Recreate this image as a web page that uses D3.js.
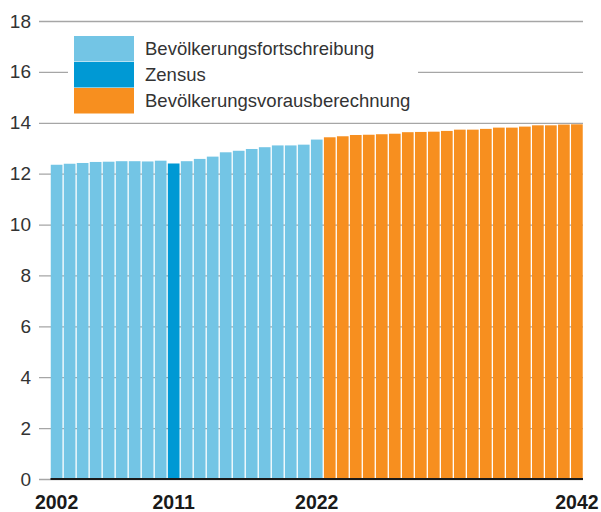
<!DOCTYPE html>
<html>
<head>
<meta charset="utf-8">
<script src="https://cdn.jsdelivr.net/npm/d3@7"></script>
<style>
  body { margin: 0; background: #fff; }
  svg { display: block; font-family: "Liberation Sans", Arial, sans-serif; }
</style>
</head>
<body>
<div id="chart"></div>
<script>
// years shown as bars
const years = [2002, 2003, 2004, 2005, 2006, 2007, 2008, 2009, 2010, 2011,
               2012, 2013, 2014, 2015, 2016, 2017, 2018, 2019, 2020, 2021,
               2022, 2023, 2024, 2025, 2026, 2027, 2028, 2029, 2030, 2031,
               2032, 2033, 2034, 2035, 2036, 2037, 2038, 2039, 2040, 2041, 2042];

// population in millions
const population = [12.35, 12.39, 12.42, 12.46, 12.47, 12.49, 12.49, 12.48, 12.51, 12.40,
                    12.49, 12.58, 12.67, 12.84, 12.90, 12.97, 13.04, 13.11, 13.11, 13.14,
                    13.34, 13.43, 13.47, 13.52, 13.53, 13.55, 13.57, 13.63, 13.64, 13.65,
                    13.68, 13.73, 13.73, 13.76, 13.81, 13.81, 13.85, 13.90, 13.90, 13.93, 13.94];

const seriesNames = ["Bevölkerungsfortschreibung", "Zensus", "Bevölkerungsvorausberechnung"];
const seriesColors = ["#73c5e5", "#0099d4", "#f78f1f"];
const censusYear = 2011,
      lastObservedYear = 2022;

const yTicks = [0, 2, 4, 6, 8, 10, 12, 14, 16, 18];
const xLabels = [2002, 2011, 2022, 2042];

// which series a year belongs to
function seriesOf(year) {
  if (year === censusYear) return 1;
  return year <= lastObservedYear ? 0 : 2;
}

const width = 601, height = 512;
const plot = { left: 50.5, right: 583, top: 21, bottom: 479 };

const svg = d3.select("#chart").append("svg")
    .attr("width", width)
    .attr("height", height);

const x = d3.scaleBand().domain(years).range([plot.left, plot.right]).paddingInner(0.1).paddingOuter(0.02);
const y = d3.scaleLinear().domain([0, 18]).range([plot.bottom, plot.top]);

// gridlines + tick labels
const grid = svg.append("g")
  .attr("transform", "translate(39,0)")
  .call(d3.axisLeft(y).tickValues(yTicks).tickSize(-(plot.right - 39)).tickPadding(8));
grid.select(".domain").remove();
grid.selectAll(".tick line").attr("stroke", "#a6a6a6").attr("stroke-width", 1.3);
grid.selectAll(".tick text")
  .attr("fill", "#333")
  .attr("font-size", 19)
  .attr("font-family", "'Liberation Sans', Arial, sans-serif");

// bars
svg.append("g").selectAll("rect")
  .data(years.map((d, i) => ({ year: d, value: population[i] })))
  .join("rect")
    .attr("x", d => x(d.year))
    .attr("y", d => y(d.value))
    .attr("width", x.bandwidth())
    .attr("height", d => y(0) - y(d.value))
    .attr("fill", d => seriesColors[seriesOf(d.year)]);

// baseline
svg.append("line")
  .attr("x1", plot.left).attr("x2", plot.right)
  .attr("y1", y(0)).attr("y2", y(0))
  .attr("stroke", "#1a1a1a").attr("stroke-width", 2);

// x labels
svg.append("g").selectAll("text")
  .data(xLabels)
  .join("text")
    .attr("x", d => x(d) + x.bandwidth() / 2)
    .attr("y", 509)
    .attr("text-anchor", "middle")
    .attr("font-size", 19.5)
    .attr("font-weight", "bold")
    .attr("fill", "#1a1a1a")
    .text(d => d);

// legend (white box over the grid)
const legend = svg.append("g");
legend.append("rect")
  .attr("x", 68).attr("y", 30).attr("width", 350).attr("height", 88)
  .attr("fill", "#fff");
const item = legend.selectAll("g.item")
  .data(seriesNames)
  .join("g")
    .attr("class", "item")
    .attr("transform", (d, i) => "translate(74," + (36 + i * 26) + ")");
item.append("rect")
  .attr("width", 60).attr("height", 25.5)
  .attr("fill", (d, i) => seriesColors[i]);
item.append("text")
  .attr("x", 71).attr("y", 19)
  .attr("font-size", 18.5)
  .attr("fill", "#333")
  .text(d => d);
</script>
</body>
</html>
